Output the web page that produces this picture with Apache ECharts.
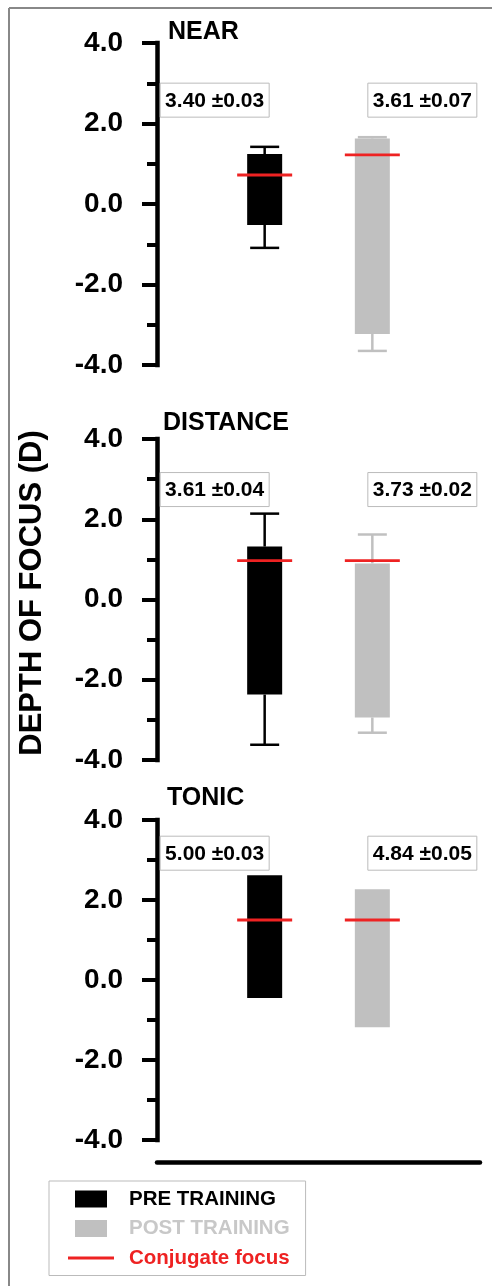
<!DOCTYPE html>
<html>
<head>
<meta charset="utf-8">
<script src="https://cdn.jsdelivr.net/npm/echarts@6/dist/echarts.min.js"></script>
<style>html,body{margin:0;padding:0;background:#fff;}#c{width:492px;height:1286px;}</style>
</head>
<body>
<div id="c"></div>
<script>
// ---- data ----
const panels = ['NEAR', 'DISTANCE', 'TONIC'];
const groups = ['PRE TRAINING', 'POST TRAINING', 'Conjugate focus'];
const preLow = [-0.52, -2.37, -0.45];
const preHigh = [1.24, 1.32, 2.62];
const preErrLow = [-1.09, -3.62, null];
const preErrHigh = [1.42, 2.14, null];
const postLow = [-3.23, -2.94, -1.18];
const postHigh = [1.63, 0.90, 2.27];
const postErrLow = [-3.65, -3.32, null];
const postErrHigh = [1.66, 1.62, null];
const preConj = [0.72, 0.97, 1.50];
const postConj = [1.22, 0.97, 1.50];
const preNote = ['3.40 ±0.03', '3.61 ±0.04', '5.00 ±0.03'];
const postNote = ['3.61 ±0.07', '3.73 ±0.02', '4.84 ±0.05'];
const yMin = -4, yMax = 4, yStep = 2;
const yAxisName = 'DEPTH OF FOCUS (D)';

// ---- layout / style ----
const FONT = '"Liberation Sans", Arial, Helvetica, sans-serif';
const BLACK = '#000000', GREY = '#c0c0c0', GREYTXT = '#c8c8c8', RED = '#ee2222';
const gridTops = [43, 439, 820];
const gridHeights = [322, 321, 320];
const titleTops = [19.5, 410.5, 785.5];
const titleLefts = [168, 163, 167];
const noteLevel = [2.58, 2.74, 3.17];

const chart = echarts.init(document.getElementById('c'), null, {renderer: 'canvas'});

function barRenderer(color, notes, side, p) {
  return function (params, api) {
    const x = api.value(0);
    const lo = api.coord([x, api.value(1)]);
    const hi = api.coord([x, api.value(2)]);
    const bw = 35, cw = 29;
    const children = [];
    children.push({type: 'rect', shape: {x: lo[0] - bw / 2, y: hi[1], width: bw, height: lo[1] - hi[1]},
      style: {fill: color}});
    const eLo = api.value(3), eHi = api.value(4);
    if (!isNaN(eHi)) {
      const e = api.coord([x, eHi]);
      children.push({type: 'line', shape: {x1: hi[0], y1: hi[1], x2: e[0], y2: e[1]}, style: {stroke: color, lineWidth: 2.5}});
      children.push({type: 'line', shape: {x1: e[0] - cw / 2, y1: e[1], x2: e[0] + cw / 2, y2: e[1]}, style: {stroke: color, lineWidth: 2.5}});
    }
    if (!isNaN(eLo)) {
      const e = api.coord([x, eLo]);
      children.push({type: 'line', shape: {x1: lo[0], y1: lo[1], x2: e[0], y2: e[1]}, style: {stroke: color, lineWidth: 2.5}});
      children.push({type: 'line', shape: {x1: e[0] - cw / 2, y1: e[1], x2: e[0] + cw / 2, y2: e[1]}, style: {stroke: color, lineWidth: 2.5}});
    }
    // annotation box
    const n = api.coord([x, noteLevel[p]]);
    const cx = n[0] + side * 50;
    children.push({type: 'rect', shape: {x: cx - 54.5, y: n[1] - 17, width: 109, height: 34},
      style: {fill: '#fff', stroke: '#bbbbbb', lineWidth: 1}});
    children.push({type: 'text', style: {text: notes[p], x: cx, y: n[1] + 1, align: 'center', verticalAlign: 'middle',
      font: 'bold 21px ' + FONT, fill: '#000'}});
    return {type: 'group', children: children};
  };
}

function conjRenderer(params, api) {
  const c = api.coord([api.value(0), api.value(1)]);
  return {type: 'line', shape: {x1: c[0] - 27.5, y1: c[1], x2: c[0] + 27.5, y2: c[1]},
    style: {stroke: RED, lineWidth: 2.8}};
}

const grid = [], xAxis = [], yAxis = [], series = [], title = [];
panels.forEach(function (name, p) {
  grid.push({left: 157, right: 12, top: gridTops[p], height: gridHeights[p]});
  title.push({text: name, left: titleLefts[p], top: titleTops[p], padding: 0,
    textStyle: {fontSize: 25, fontWeight: 'bold', fontFamily: FONT, color: '#000', lineHeight: 25}});
  xAxis.push({type: 'value', gridIndex: p, min: 0, max: 3, show: p === 2, offset: 22, position: 'bottom',
    axisLine: {show: true, onZero: false, lineStyle: {color: '#000', width: 4.5, cap: 'round'}},
    axisTick: {show: false}, axisLabel: {show: false}, splitLine: {show: false}});
  yAxis.push({type: 'value', gridIndex: p, min: yMin, max: yMax, interval: yStep, offset: 15,
    name: p === 1 ? yAxisName : '', nameLocation: 'middle', nameGap: 94, nameRotate: 90,
    nameTextStyle: {fontSize: 31, fontWeight: 'bold', fontFamily: FONT, color: '#000', padding: [0, 0, 0, 13]},
    axisLine: {show: true, lineStyle: {color: '#000', width: 4.5, cap: 'square'}},
    axisTick: {show: true, length: 15, lineStyle: {color: '#000', width: 4}},
    minorTick: {show: true, splitNumber: 2, length: 10, lineStyle: {color: '#000', width: 4}},
    splitLine: {show: false}, minorSplitLine: {show: false},
    axisLabel: {margin: 19, fontSize: 28, fontWeight: 'bold', fontFamily: FONT, color: '#000',
      formatter: function (v) { return v.toFixed(1); }}});
  series.push({type: 'custom', name: groups[0], xAxisIndex: p, yAxisIndex: p, itemStyle: {color: BLACK},
    renderItem: barRenderer(BLACK, preNote, -1, p), encode: {x: 0, y: [1, 2]},
    data: [[1, preLow[p], preHigh[p], preErrLow[p], preErrHigh[p]]], z: 2});
  series.push({type: 'custom', name: groups[1], xAxisIndex: p, yAxisIndex: p, itemStyle: {color: GREY},
    renderItem: barRenderer(GREY, postNote, 1, p), encode: {x: 0, y: [1, 2]},
    data: [[2, postLow[p], postHigh[p], postErrLow[p], postErrHigh[p]]], z: 2});
  series.push({type: 'custom', name: groups[2], xAxisIndex: p, yAxisIndex: p, itemStyle: {color: RED},
    renderItem: conjRenderer, encode: {x: 0, y: 1},
    data: [[1, preConj[p]], [2, postConj[p]]], z: 3});
});

chart.setOption({
  animation: false,
  backgroundColor: '#fff',
  title: title,
  grid: grid,
  xAxis: xAxis,
  yAxis: yAxis,
  series: series,
  legend: {
    orient: 'vertical', left: 49, top: 1181, height: 81, padding: [7.5, 16, 7, 19],
    borderColor: '#bbbbbb', borderWidth: 1, itemWidth: 46, itemHeight: 17, itemGap: 8.5,
    symbolKeepAspect: true, selectedMode: false,
    textStyle: {fontSize: 20.5, lineHeight: 17, fontWeight: 'bold', fontFamily: FONT, padding: [0, 0, 0, 10]},
    data: [
      {name: groups[0], icon: 'path://M0,0H32V17H0Z', textStyle: {color: BLACK}},
      {name: groups[1], icon: 'path://M0,0H32V17H0Z', textStyle: {color: GREYTXT}},
      {name: groups[2], icon: 'path://M0,0H46V2.8H0Z', textStyle: {color: RED}}
    ]
  },
  graphic: [
    {type: 'line', shape: {x1: 9, y1: 8, x2: 492, y2: 8}, style: {stroke: '#888', lineWidth: 2}},
    {type: 'line', shape: {x1: 9, y1: 8, x2: 9, y2: 1286}, style: {stroke: '#888', lineWidth: 2}}
  ]
});
</script>
</body>
</html>
